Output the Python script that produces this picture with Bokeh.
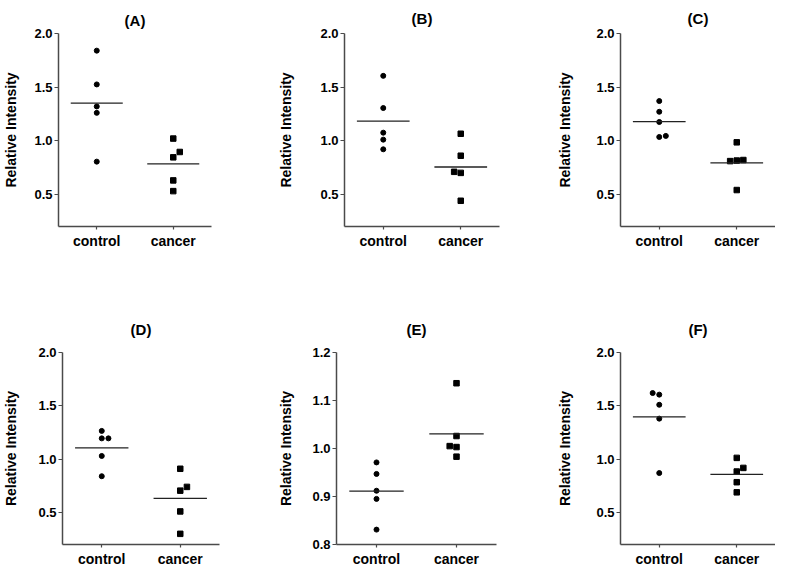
import numpy as np
from bokeh.plotting import figure
from bokeh.layouts import column, row
from bokeh.models import Range1d, FixedTicker, NumeralTickFormatter, ColumnDataSource
from bokeh.embed import file_html
from bokeh.resources import INLINE

# ---------------- data ----------------
categories = ["control", "cancer"]
panel_titles = ["(A)", "(B)", "(C)", "(D)", "(E)", "(F)"]
y_label = "Relative Intensity"

a_control = [1.84, 1.525, 1.32, 1.26, 0.805]
a_cancer = [1.02, 0.895, 0.845, 0.63, 0.53]
b_control = [1.605, 1.305, 1.075, 1.01, 0.92]
b_cancer = [1.065, 0.86, 0.71, 0.70, 0.44]
c_control = [1.37, 1.27, 1.175, 1.035, 1.045]
c_cancer = [0.985, 0.81, 0.815, 0.82, 0.54]
d_control = [1.265, 1.195, 1.195, 1.03, 0.84]
d_cancer = [0.91, 0.74, 0.705, 0.51, 0.30]
e_control = [0.971, 0.947, 0.912, 0.895, 0.831]
e_cancer = [1.136, 1.026, 1.005, 1.003, 0.983]
f_control = [1.62, 1.605, 1.51, 1.38, 0.87]
f_cancer = [1.012, 0.918, 0.884, 0.784, 0.689]

y_ticks_main = [0.5, 1.0, 1.5, 2.0]
y_ticks_e = [0.8, 0.9, 1.0, 1.1, 1.2]

# horizontal scatter (dodge) of overlapping points, in category widths
d = 0.085
a_control_dx = [0, 0, 0, 0, 0]
a_cancer_dx = [0, d, 0, 0, 0]
b_control_dx = [0, 0, 0, 0, 0]
b_cancer_dx = [0, 0, -d, 0, 0]
c_control_dx = [0, 0, 0, 0, d]
c_cancer_dx = [0, -d, 0, d, 0]
d_control_dx = [0, 0, d, 0, 0]
d_cancer_dx = [0, d, 0, 0, 0]
e_control_dx = [0, 0, 0, 0, 0]
e_cancer_dx = [0, 0, -d, 0, 0]
f_control_dx = [-d, 0, 0, 0, 0]
f_cancer_dx = [0, d, 0, 0, 0]

FONT = "Liberation Sans"
AXIS_COLOR = "#4a4a4a"


def make_panel(title, ctrl, canc, ctrl_dx, canc_dx, y_range, y_ticks,
               frame_w, frame_h, left, right, top, bottom,
               title_standoff, label_standoff):
    p = figure(output_backend="svg", toolbar_location=None,
               frame_width=frame_w, frame_height=frame_h,
               min_border_left=left, min_border_right=right,
               min_border_top=top, min_border_bottom=bottom,
               x_range=Range1d(0, 2), y_range=Range1d(*y_range))
    p.title.text = title
    p.title.align = "center"
    p.title.text_font = FONT
    p.title.text_font_size = "15px"
    p.title.text_font_style = "bold"
    p.title.text_color = "black"
    p.title.standoff = title_standoff
    p.outline_line_color = None
    p.grid.grid_line_color = None
    p.background_fill_color = "white"
    p.border_fill_color = "white"

    positions = [0.5, 1.5]
    # x axis
    p.xaxis.ticker = FixedTicker(ticks=positions)
    p.xaxis.major_label_overrides = {positions[i]: categories[i] for i in range(2)}
    p.xaxis.major_label_text_font = FONT
    p.xaxis.major_label_text_font_size = "14px"
    p.xaxis.major_label_text_font_style = "bold"
    p.xaxis.major_label_text_color = "black"
    p.xaxis.major_label_standoff = 3
    p.xaxis.major_tick_in = 0
    p.xaxis.major_tick_out = 3
    p.xaxis.minor_tick_line_color = None
    # y axis
    p.yaxis.ticker = FixedTicker(ticks=y_ticks)
    p.yaxis.formatter = NumeralTickFormatter(format="0.0")
    p.yaxis.axis_label = y_label
    p.yaxis.axis_label_text_font = FONT
    p.yaxis.axis_label_text_font_size = "14px"
    p.yaxis.axis_label_text_font_style = "bold"
    p.yaxis.axis_label_text_color = "black"
    p.yaxis.axis_label_standoff = label_standoff
    p.yaxis.major_label_text_font = FONT
    p.yaxis.major_label_text_font_size = "13px"
    p.yaxis.major_label_text_font_style = "bold"
    p.yaxis.major_label_text_color = "black"
    p.yaxis.major_label_standoff = 2
    p.yaxis.major_tick_in = 0
    p.yaxis.major_tick_out = 4
    p.yaxis.minor_tick_line_color = None
    for ax in (p.xaxis, p.yaxis):
        ax.axis_line_color = AXIS_COLOR
        ax.axis_line_width = 1.5
        ax.major_tick_line_color = AXIS_COLOR
        ax.major_tick_line_width = 1.2

    src_c = ColumnDataSource(dict(x=[positions[0] + v for v in ctrl_dx], y=ctrl))
    src_k = ColumnDataSource(dict(x=[positions[1] + v for v in canc_dx], y=canc))
    p.scatter("x", "y", source=src_c, marker="circle", size=5,
              fill_color="black", line_color="black")
    p.scatter("x", "y", source=src_k, marker="square", size=5.5,
              fill_color="black", line_color="black")

    half = 0.34
    means = [float(np.mean(ctrl)), float(np.mean(canc))]
    p.segment(x0=[pos - half for pos in positions], x1=[pos + half for pos in positions],
              y0=means, y1=means, line_color="#222222", line_width=1.3)
    return p


main_range = (0.2, 2.0)
e_range = (0.8, 1.2)

pA = make_panel(panel_titles[0], a_control, a_cancer, a_control_dx, a_cancer_dx,
                main_range, y_ticks_main, 153, 193, 54, 53, 26, 59, 10, 12)
pB = make_panel(panel_titles[1], b_control, b_cancer, b_control_dx, b_cancer_dx,
                main_range, y_ticks_main, 155, 193, 80, 25, 31, 54, 14, 23)
pC = make_panel(panel_titles[2], c_control, c_cancer, c_control_dx, c_cancer_dx,
                main_range, y_ticks_main, 155, 193, 96, 0, 31, 54, 14, 20)
pD = make_panel(panel_titles[3], d_control, d_cancer, d_control_dx, d_cancer_dx,
                main_range, y_ticks_main, 157, 192, 58, 45, 71, 24, 30, 16)
pE = make_panel(panel_titles[4], e_control, e_cancer, e_control_dx, e_cancer_dx,
                e_range, y_ticks_e, 160, 192, 72, 28, 71, 24, 30, 15)
pF = make_panel(panel_titles[5], f_control, f_cancer, f_control_dx, f_cancer_dx,
                main_range, y_ticks_main, 155, 192, 96, 0, 71, 24, 30, 20)

layout = column(row(pA, pB, pC, spacing=0), row(pD, pE, pF, spacing=0), spacing=0)

with open("out.html", "w") as f:
    f.write(file_html(layout, INLINE))
